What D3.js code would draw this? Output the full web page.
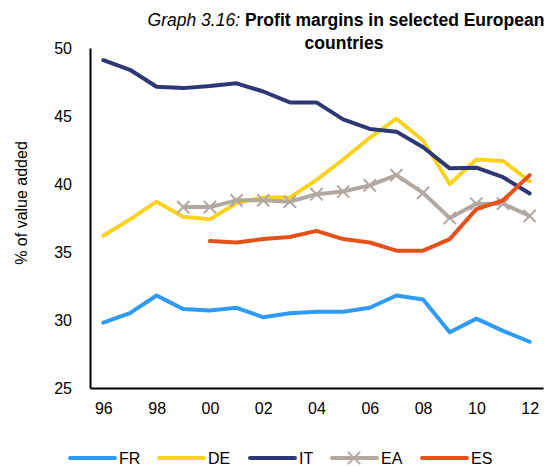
<!DOCTYPE html>
<html>
<head>
<meta charset="utf-8">
<script src="https://cdn.jsdelivr.net/npm/d3@7"></script>
<style>
  body { margin: 0; background: #fff; }
  text { font-family: "Liberation Sans", Arial, sans-serif; fill: #000; }
</style>
</head>
<body>
<script>
// Data
var years = d3.range(1996, 2013);
var tickYears = [1996, 1998, 2000, 2002, 2004, 2006, 2008, 2010, 2012];
var yTicks = [25, 30, 35, 40, 45, 50];

var fr = [29.8, 30.5, 31.8, 30.8, 30.7, 30.9, 30.2, 30.5, 30.6, 30.6, 30.9, 31.8, 31.5, 29.1, 30.1, 29.2, 28.4];
var de = [36.2, 37.4, 38.7, 37.6, 37.4, 38.6, 39.0, 39.0, 40.3, 41.8, 43.4, 44.8, 43.2, 40.0, 41.8, 41.7, 40.2];
var it = [49.1, 48.4, 47.15, 47.05, 47.2, 47.4, 46.8, 46.0, 46.0, 44.75, 44.05, 43.85, 42.7, 41.15, 41.2, 40.5, 39.3];
var ea = [null, null, null, 38.3, 38.3, 38.8, 38.8, 38.7, 39.25, 39.45, 39.9, 40.65, 39.35, 37.5, 38.55, 38.55, 37.65];
var es = [null, null, null, null, 35.8, 35.7, 35.95, 36.1, 36.55, 35.95, 35.7, 35.1, 35.1, 35.95, 38.15, 38.8, 40.65];

var seriesNames = ["FR", "DE", "IT", "EA", "ES"];
var seriesValues = [fr, de, it, ea, es];
var seriesColors = ["#2f9bf4", "#fdd21f", "#2e3776", "#b3a8a1", "#e8501a"];

var W = 548, H = 466;
var svg = d3.select("body").append("svg").attr("width", W).attr("height", H);

var x = d3.scaleLinear().domain([1995.5, 2012.5]).range([90, 543]);
var y = d3.scaleLinear().domain([25, 50]).range([388, 48]);

// Title
var title = svg.append("text").attr("x", 346).attr("y", 26).attr("text-anchor", "middle").style("font-size", "17.5px");
title.append("tspan").style("font-style", "italic").text("Graph 3.16: ");
title.append("tspan").style("font-weight", "bold").text("Profit margins in selected European");
svg.append("text").attr("x", 344).attr("y", 49).attr("text-anchor", "middle")
   .style("font-size", "17.5px").style("font-weight", "bold").text("countries");

// Axes
var yAxis = d3.axisLeft(y).tickValues(yTicks).tickSize(0).tickPadding(18);
var gy = svg.append("g").attr("transform", "translate(90,0)").call(yAxis);
gy.select(".domain").attr("stroke", "#000").attr("stroke-width", 2);
gy.selectAll("text").style("font-size", "16px").attr("font-family", null);

var xAxis = d3.axisBottom(x).tickValues(tickYears).tickSize(0).tickPadding(15)
              .tickFormat(function(d){ return d3.format("02d")(d % 100); });
var gx = svg.append("g").attr("transform", "translate(0,388)").call(xAxis);
gx.select(".domain").attr("stroke", "#000").attr("stroke-width", 2);
gx.selectAll("text").style("font-size", "16px").attr("font-family", null);

svg.append("text").attr("transform", "translate(27,203) rotate(-90)")
   .attr("text-anchor", "middle").style("font-size", "16px").text("% of value added");

// Lines
var line = d3.line()
             .defined(function(d){ return d.v !== null; })
             .x(function(d){ return x(d.year); })
             .y(function(d){ return y(d.v); });

seriesValues.forEach(function(vals, i){
   var pts = years.map(function(yr, j){ return {year: yr, v: vals[j]}; });
   svg.append("path").datum(pts)
      .attr("fill", "none")
      .attr("stroke", seriesColors[i])
      .attr("stroke-width", 4)
      .attr("stroke-linecap", "round")
      .attr("stroke-linejoin", "round")
      .attr("d", line);
   if (seriesNames[i] === "EA") {
      var cross = d3.symbol().type(d3.symbolX).size(100);
      svg.selectAll(".ea-mark").data(pts.filter(function(d){ return d.v !== null; }))
         .enter().append("path")
         .attr("class", "ea-mark")
         .attr("transform", function(d){ return "translate(" + x(d.year) + "," + y(d.v) + ")"; })
         .attr("d", cross)
         .attr("fill", "none")
         .attr("stroke", seriesColors[i])
         .attr("stroke-width", 2);
   }
});

// Legend
var legendX = [70, 159, 250, 332, 422];
var legendY = 458;
seriesNames.forEach(function(name, i){
   var g = svg.append("g");
   g.append("line").attr("x1", legendX[i]).attr("x2", legendX[i] + 45)
    .attr("y1", legendY).attr("y2", legendY)
    .attr("stroke", seriesColors[i]).attr("stroke-width", 4).attr("stroke-linecap", "round");
   if (name === "EA") {
      g.append("path").attr("transform", "translate(" + (legendX[i] + 22) + "," + legendY + ")")
       .attr("d", d3.symbol().type(d3.symbolX).size(100))
       .attr("fill", "none").attr("stroke", seriesColors[i]).attr("stroke-width", 2);
   }
   g.append("text").attr("x", legendX[i] + 49).attr("y", legendY + 6)
    .style("font-size", "16px").text(name);
});
</script>
</body>
</html>
